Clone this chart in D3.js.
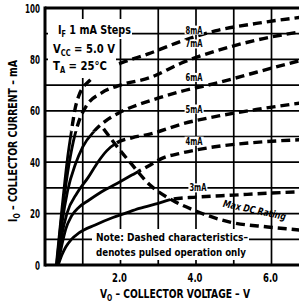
<!DOCTYPE html>
<html>
<head>
<meta charset="utf-8">
<script src="https://cdn.jsdelivr.net/npm/d3@7"></script>
<style>
body { margin: 0; background: #fff; }
text { font-family: "Liberation Sans Narrow", "DejaVu Sans Condensed", "Liberation Sans", Arial, sans-serif; font-weight: bold; font-stretch: condensed; fill: #000; }
</style>
</head>
<body>
<div id="chart"></div>
<script>
// IF steps, collector current (mA) vs collector voltage (V)
var curveNames = ["3mA", "4mA", "5mA", "6mA", "7mA", "8mA"];
var curve3mA = [[0.35,0],[0.45,4],[0.55,7],[0.7,10],[0.9,12.5],[1.33,15.6],[1.8,18.5],[2.1,20],[2.5,22],[3.0,24],[3.4,25.7],[4,26.4],[5,27.2],[6,28],[7,28.6]];
var curve4mA = [[0.34,0],[0.45,8],[0.55,14],[0.7,19],[0.9,22.5],[1.14,25],[1.5,28.5],[2.0,32.5],[2.3,35],[2.8,39],[3.1,41.5],[3.6,43.5],[4.5,46],[5.5,47.6],[7,48.9]];
var curve5mA = [[0.33,0],[0.45,12],[0.58,20],[0.85,28],[1.14,34],[1.4,40],[1.64,44.5],[1.9,47.5],[2.3,49.5],[2.8,51],[3.66,55],[4.6,58],[5.6,60.5],[7,63.5]];
var curve6mA = [[0.32,0],[0.45,16],[0.6,29],[0.8,39],[1.0,46],[1.3,52],[1.6,56],[2,59.5],[2.8,64],[3.6,67.5],[4.6,71],[5.6,75],[7,80.5]];
var curve7mA = [[0.31,0],[0.45,20],[0.6,36],[0.75,48],[0.9,56],[1.1,62],[1.5,67],[2,70],[2.8,73],[3.6,78.5],[4.6,83.6],[5.6,87.5],[7,91.3]];
var curve8mA = [[0.3,0],[0.45,22],[0.6,42],[0.7,52],[0.8,61],[0.9,66],[1.2,72],[1.6,76],[2,78.5],[2.8,82.5],[3.6,87],[4.6,91.4],[5.6,94],[7,96.8]];

// where each curve label sits [V, mA]
var labelPos = [[4.05,30],[3.95,48.2],[3.95,60.7],[3.95,73],[3.95,86],[3.95,91.4]];

// max DC rating boundary (solid below, dashed above)
var dcLimitV = [0, 1.5, 1.55, 1.86, 2.25, 2.79, 3.4, 3.93, 4.9, 5.9, 6.74, 7];
var dcLimitI = [52, 52, 53, 47, 40, 31, 25, 21.4, 16.7, 14.8, 13.6, 13.2];
var maxDcFrom = 1.55;

var xGrid = [1, 2, 3, 4, 5, 6, 7];
var yGrid = [10, 20, 30, 40, 50, 60, 70, 80, 90];
var xTicks = [2, 4, 6];
var xTickLabels = ["2.0", "4.0", "6.0"];
var yTicks = [0, 20, 40, 60, 80, 100];

var width = 299, height = 303;

var svg = d3.select("#chart").append("svg")
    .attr("width", width)
    .attr("height", height);

var x = d3.scaleLinear().domain([0, 7]).range([45, 309.25]);
var y = d3.scaleLinear().domain([0, 100]).range([265, 8]);

var curves = [curve3mA, curve4mA, curve5mA, curve6mA, curve7mA, curve8mA];
var dcLimit = dcLimitV.map(function(v, i) { return [v, dcLimitI[i]]; });

// clip regions: below the DC limit -> solid, above -> dashed
var defs = svg.append("defs");
var area = d3.area().x(function(d) { return x(d[0]); });
defs.append("clipPath").attr("id", "dcOk")
    .append("path")
    .attr("d", area.y0(y(-10)).y1(function(d) { return y(d[1]); })(dcLimit));
defs.append("clipPath").attr("id", "pulsed")
    .append("path")
    .attr("d", area.y0(function(d) { return y(d[1]); }).y1(y(120))(dcLimit));

// grid
svg.append("g").selectAll("line").data(xGrid).enter().append("line")
    .attr("x1", function(d) { return x(d); })
    .attr("x2", function(d) { return x(d); })
    .attr("y1", y(100)).attr("y2", y(0))
    .attr("stroke", "#000").attr("stroke-width", 1.7);
svg.append("g").selectAll("line").data(yGrid).enter().append("line")
    .attr("x1", x(0)).attr("x2", width)
    .attr("y1", function(d) { return y(d); })
    .attr("y2", function(d) { return y(d); })
    .attr("stroke", "#000").attr("stroke-width", 1.7);

// curves
var line = d3.line()
    .x(function(d) { return x(d[0]); })
    .y(function(d) { return y(d[1]); })
    .curve(d3.curveMonotoneX);

var plot = svg.append("g");
curves.forEach(function(c) {
    plot.append("path").attr("d", line(c))
        .attr("fill", "none").attr("stroke", "#000")
        .attr("stroke-width", 2.8)
        .attr("clip-path", "url(#dcOk)");
    plot.append("path").attr("d", line(c))
        .attr("fill", "none").attr("stroke", "#000")
        .attr("stroke-width", 3.4)
        .attr("stroke-dasharray", "9,5")
        .attr("clip-path", "url(#pulsed)");
});

// max DC rating curve
var maxDc = dcLimit.filter(function(d) { return d[0] >= maxDcFrom; });
plot.append("path")
    .attr("d", line(maxDc))
    .attr("fill", "none").attr("stroke", "#000")
    .attr("stroke-width", 3.4)
    .attr("stroke-dasharray", "9,5");

// text with a white box behind it
function boxed(g, px, py, txt, size, len, pad) {
    var grp = g.append("g");
    var t = grp.append("text")
        .attr("x", px).attr("y", py)
        .attr("text-anchor", "middle")
        .attr("dominant-baseline", "central")
        .attr("textLength", len).attr("lengthAdjust", "spacingAndGlyphs")
        .style("font-size", size + "px")
        .text(txt);
    var b = t.node().getBBox();
    grp.insert("rect", "text")
        .attr("x", b.x - pad).attr("y", b.y + 1)
        .attr("width", b.width + 2 * pad).attr("height", b.height - 2)
        .attr("fill", "#fff");
    return t;
}

var labels = svg.append("g");
curveNames.forEach(function(n, i) {
    boxed(labels, x(labelPos[i][0]), y(labelPos[i][1]), n, 10, 17, 1);
});

// Max DC Rating label
labels.append("text")
    .attr("transform", "translate(" + x(5.55) + "," + y(21.4) + ") rotate(12)")
    .attr("text-anchor", "middle")
    .attr("dominant-baseline", "central")
    .attr("textLength", 64).attr("lengthAdjust", "spacingAndGlyphs")
    .style("font-size", "10px")
    .style("font-style", "italic")
    .text("Max DC Rating");

// note box
labels.append("rect")
    .attr("x", 92).attr("y", 229).attr("width", 157).attr("height", 31)
    .attr("fill", "#fff");
labels.append("text").attr("x", 96).attr("y", 241)
    .style("font-size", "11px")
    .attr("textLength", 152).attr("lengthAdjust", "spacingAndGlyphs")
    .text("Note: Dashed characteristics\u2013");
labels.append("text").attr("x", 96).attr("y", 256)
    .style("font-size", "11px")
    .attr("textLength", 150).attr("lengthAdjust", "spacingAndGlyphs")
    .text("denotes pulsed operation only");

// conditions box
labels.append("rect").attr("x", 48).attr("y", 19).attr("width", 84).attr("height", 20).attr("fill", "#fff");
labels.append("rect").attr("x", 48).attr("y", 39).attr("width", 68).attr("height", 39).attr("fill", "#fff");

var t1 = labels.append("text").attr("x", 58).attr("y", 34).style("font-size", "12px")
    .attr("textLength", 73).attr("lengthAdjust", "spacingAndGlyphs");
t1.append("tspan").text("I");
t1.append("tspan").attr("dy", 3).style("font-size", "8px").text("F");
t1.append("tspan").attr("dy", -3).text(" 1 mA Steps");

var t2 = labels.append("text").attr("x", 53).attr("y", 53).style("font-size", "12px")
    .attr("textLength", 62).attr("lengthAdjust", "spacingAndGlyphs");
t2.append("tspan").text("V");
t2.append("tspan").attr("dy", 3).style("font-size", "8px").text("CC");
t2.append("tspan").attr("dy", -3).text(" = 5.0 V");

var t3 = labels.append("text").attr("x", 53).attr("y", 70).style("font-size", "12px")
    .attr("textLength", 54).attr("lengthAdjust", "spacingAndGlyphs");
t3.append("tspan").text("T");
t3.append("tspan").attr("dy", 3).style("font-size", "8px").text("A");
t3.append("tspan").attr("dy", -3).text(" = 25\u00b0C");

// frame
var frame = svg.append("g").attr("stroke", "#000").attr("stroke-width", 3);
frame.append("line").attr("x1", x(0)).attr("x2", width).attr("y1", y(100)).attr("y2", y(100));
frame.append("line").attr("x1", x(0)).attr("x2", width).attr("y1", y(0)).attr("y2", y(0));
frame.append("line").attr("x1", x(0)).attr("x2", x(0)).attr("y1", y(100) - 1.5).attr("y2", y(0) + 1.5);

// tick labels
svg.append("g").selectAll("text").data(yTicks).enter().append("text")
    .attr("x", 40)
    .attr("y", function(d) { return y(d); })
    .attr("text-anchor", "end")
    .attr("dominant-baseline", "central")
    .attr("textLength", function(d) { return String(d).length * 5; })
    .attr("lengthAdjust", "spacingAndGlyphs")
    .style("font-size", "13px")
    .text(function(d) { return d; });
svg.append("g").selectAll("text").data(xTicks).enter().append("text")
    .attr("x", function(d) { return x(d) - 1; })
    .attr("y", 282)
    .attr("text-anchor", "middle")
    .attr("textLength", 15)
    .attr("lengthAdjust", "spacingAndGlyphs")
    .style("font-size", "13px")
    .text(function(d, i) { return xTickLabels[i]; });

// axis titles
var xt = svg.append("text").attr("x", 100).attr("y", 298)
    .style("font-size", "12px")
    .attr("textLength", 150).attr("lengthAdjust", "spacingAndGlyphs");
xt.append("tspan").text("V");
xt.append("tspan").attr("dy", 3).style("font-size", "8px").text("O");
xt.append("tspan").attr("dy", -3).text(" \u2013 COLLECTOR VOLTAGE \u2013 V");

var yt = svg.append("text")
    .attr("transform", "translate(17,222) rotate(-90)")
    .style("font-size", "12px")
    .attr("textLength", 162).attr("lengthAdjust", "spacingAndGlyphs");
yt.append("tspan").text("I");
yt.append("tspan").attr("dy", 3).style("font-size", "8px").text("O");
yt.append("tspan").attr("dy", -3).text(" \u2013 COLLECTOR CURRENT \u2013 mA");
</script>
</body>
</html>
